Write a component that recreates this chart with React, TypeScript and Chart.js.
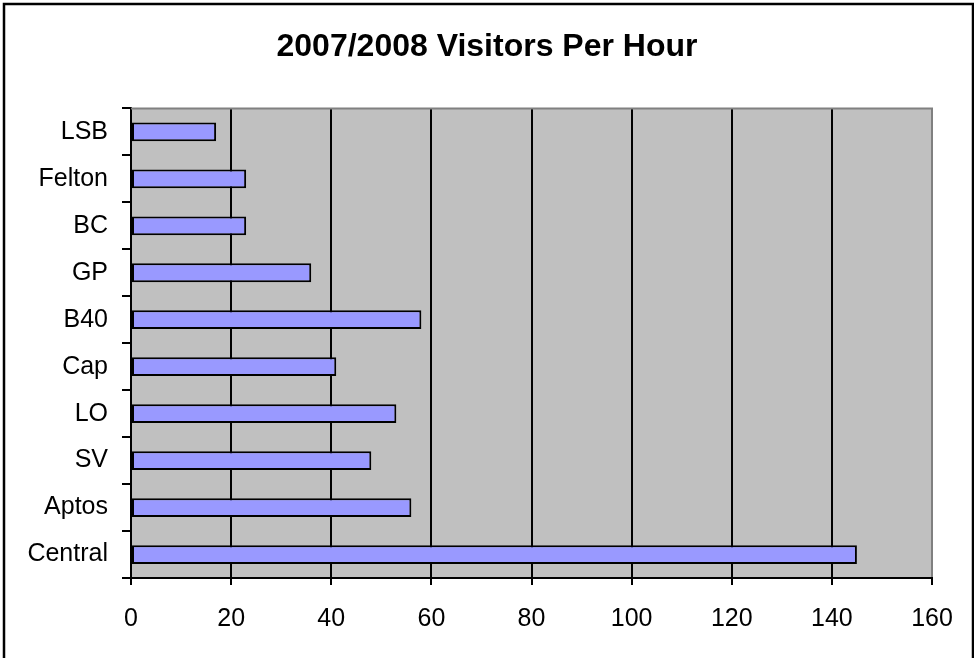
import React, { useEffect, useRef } from "react";
import { Chart, registerables } from "chart.js";

Chart.register(...registerables);

// Sites, listed top to bottom
const sites = ["LSB", "Felton", "BC", "GP", "B40", "Cap", "LO", "SV", "Aptos", "Central"];
// Average visitors per hour, 2007/2008
const visitorsPerHour = [17, 23, 23, 36, 58, 41, 53, 48, 56, 145];
// Value axis range and step
const axisMin = 0;
const axisMax = 160;
const axisStep = 20;

const FONT = "'Liberation Sans', Arial, Helvetica, sans-serif";

// Paints the page, outer frame, and the grey plot area behind everything
const backdrop = {
  id: "backdrop",
  beforeDraw(chart: any) {
    const { ctx, chartArea, width, height } = chart;
    ctx.save();
    ctx.fillStyle = "#ffffff";
    ctx.fillRect(0, 0, width, height);
    ctx.strokeStyle = "#000000";
    ctx.lineWidth = 2.5;
    ctx.strokeRect(4, 4, width - 5, height + 10);
    ctx.fillStyle = "#c0c0c0";
    ctx.fillRect(chartArea.left, chartArea.top, chartArea.right - chartArea.left, chartArea.bottom - chartArea.top);
    ctx.restore();
  },
  beforeDatasetsDraw(chart: any) {
    const { ctx, chartArea } = chart;
    ctx.save();
    ctx.strokeStyle = "#808080";
    ctx.lineWidth = 2;
    ctx.beginPath();
    ctx.moveTo(chartArea.left, chartArea.top);
    ctx.lineTo(chartArea.right + 1, chartArea.top);
    ctx.stroke();
    ctx.restore();
  },
};

export default function App() {
  const canvasRef = useRef<HTMLCanvasElement | null>(null);

  useEffect(() => {
    document.body.style.margin = "0";
    const canvas = canvasRef.current;
    if (!canvas) return;
    const lastTick = (axisMax - axisMin) / axisStep;
    const chart = new Chart(canvas, {
      type: "bar",
      data: {
        labels: sites,
        datasets: [
          {
            label: "Visitors Per Hour",
            data: visitorsPerHour,
            backgroundColor: "#9999ff",
            borderColor: "#000000",
            borderWidth: 2,
            borderSkipped: false,
            categoryPercentage: 1,
            barPercentage: 0.4,
          },
        ],
      },
      options: {
        indexAxis: "y",
        responsive: false,
        animation: false,
        devicePixelRatio: 1,
        layout: { padding: 0 },
        plugins: {
          legend: { display: false },
          tooltip: { enabled: false },
          title: {
            display: true,
            text: "2007/2008 Visitors Per Hour",
            color: "#000000",
            font: { family: FONT, size: 32, weight: "bold" },
            padding: { top: 28, bottom: 42 },
          },
        },
        scales: {
          x: {
            min: axisMin,
            max: axisMax,
            afterFit(scale: any) {
              scale.height = 80;
            },
            border: { display: true, color: "#000000", width: 2 },
            grid: {
              color: (c: any) => (c.index === lastTick ? "#808080" : "#000000"),
              tickColor: "#000000",
              lineWidth: 2,
              tickLength: 7,
            },
            ticks: {
              stepSize: axisStep,
              color: "#000000",
              font: { family: FONT, size: 25 },
              padding: 19,
            },
          },
          y: {
            afterFit(scale: any) {
              scale.width = 131;
            },
            border: { display: true, color: "#000000", width: 2 },
            grid: {
              offset: true,
              drawOnChartArea: false,
              color: "#000000",
              lineWidth: 2,
              tickLength: 9,
            },
            ticks: {
              color: "#000000",
              font: { family: FONT, size: 25 },
              padding: 14,
            },
          },
          // empty margin on the right so the plot stops short of the frame
          yMargin: {
            type: "category",
            position: "right",
            labels: sites,
            afterFit(scale: any) {
              scale.width = 42;
            },
            border: { display: false },
            grid: { display: false },
            ticks: { display: false },
          },
        },
      },
      plugins: [backdrop],
    });
    return () => chart.destroy();
  }, []);

  return <canvas ref={canvasRef} width={974} height={658} style={{ display: "block" }} />;
}
